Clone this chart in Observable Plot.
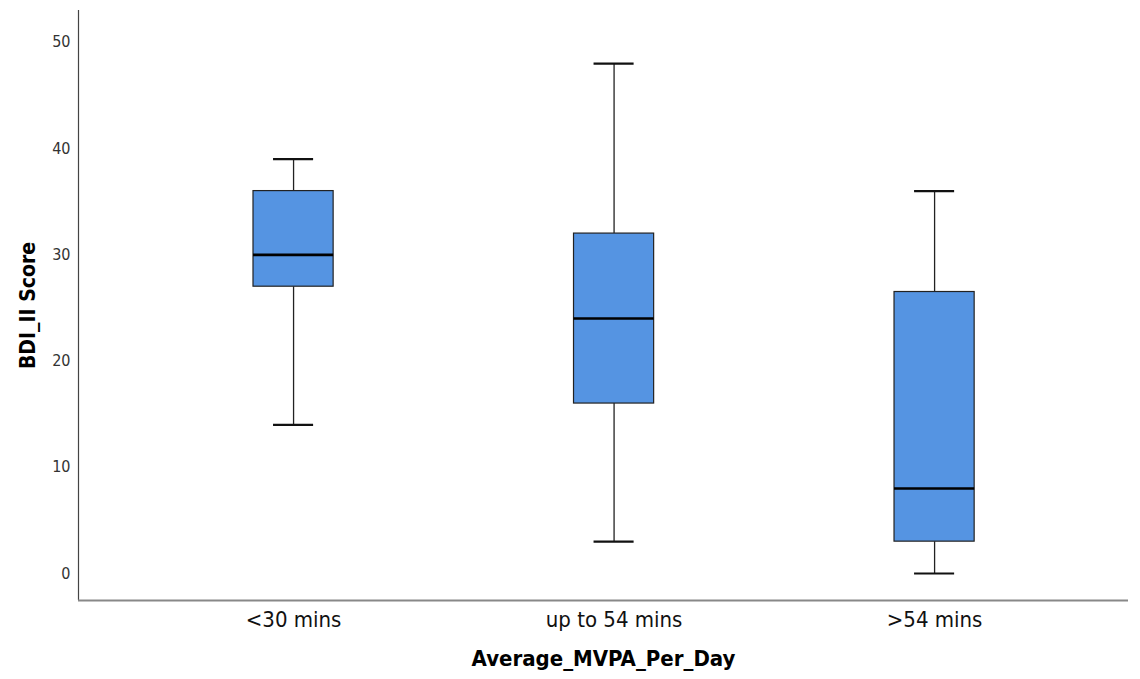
<!DOCTYPE html>
<html><head><meta charset="utf-8">
<script src="https://cdn.jsdelivr.net/npm/d3@7"></script>
<script src="https://cdn.jsdelivr.net/npm/@observablehq/plot@0.6"></script>
<style>body{margin:0;background:#fff;overflow:hidden}</style></head>
<body><div id="chart"></div>
<script>
const categories = ["<30 mins", "up to 54 mins", ">54 mins"];
const whiskerLow = [14, 3, 0];
const q1 = [27, 16, 3];
const median = [30, 24, 8];
const q3 = [36, 32, 26.5];
const whiskerHigh = [39, 48, 36];
const yTicks = [0, 10, 20, 30, 40, 50];
const xTitle = "Average_MVPA_Per_Day";
const yTitle = "BDI_II Score";

const rows = categories.map((c, i) => ({i, c, lo: whiskerLow[i], q1: q1[i], med: median[i], q3: q3[i], hi: whiskerHigh[i]}));
const hw = 0.125, cw = 0.0625;
const xMin = -0.671, xMax = 2.605, yMin = -2.54, yMax = 53.0;
const font = "'Liberation Sans Narrow', 'DejaVu Sans Condensed', 'Roboto', sans-serif";

const chart = Plot.plot({
  width: 1140, height: 679,
  marginLeft: 78, marginRight: 12, marginTop: 10, marginBottom: 79,
  style: {fontFamily: font, background: "#fff", color: "#333"},
  x: {type: "linear", domain: [xMin, xMax]},
  y: {domain: [yMin, yMax]},
  marks: [
    Plot.ruleX(rows, {x: "i", y1: "lo", y2: "q1", stroke: "#222", strokeWidth: 1.3}),
    Plot.ruleX(rows, {x: "i", y1: "q3", y2: "hi", stroke: "#222", strokeWidth: 1.3}),
    Plot.ruleY(rows, {y: "lo", x1: d => d.i - cw, x2: d => d.i + cw, stroke: "#111", strokeWidth: 2.2}),
    Plot.ruleY(rows, {y: "hi", x1: d => d.i - cw, x2: d => d.i + cw, stroke: "#111", strokeWidth: 2.2}),
    Plot.rect(rows, {x1: d => d.i - hw, x2: d => d.i + hw, y1: "q1", y2: "q3", fill: "#5594e2", stroke: "#222", strokeWidth: 1.2}),
    Plot.ruleY(rows, {y: "med", x1: d => d.i - hw, x2: d => d.i + hw, stroke: "#000", strokeWidth: 2.6}),
    Plot.axisY({ticks: yTicks, tickSize: 0, tickPadding: 8, fontSize: 16, label: null}),
    Plot.axisX({ticks: [0, 1, 2], tickFormat: i => categories[i], tickSize: 0, tickPadding: 11, fontSize: 22, fill: "#111", label: null}),
    Plot.ruleX([xMin], {stroke: "#444", strokeWidth: 1.2}),
    Plot.ruleY([yMin], {stroke: "#888", strokeWidth: 2}),
    Plot.text([xTitle], {frameAnchor: "bottom", dy: 65, fontSize: 22, fontWeight: "bold", fill: "#000"}),
    Plot.text([yTitle], {frameAnchor: "left", textAnchor: "middle", dx: -50, rotate: -90, fontSize: 21, fontWeight: "bold", fill: "#000"})
  ]
});
document.getElementById("chart").append(chart);
</script>
</body></html>
